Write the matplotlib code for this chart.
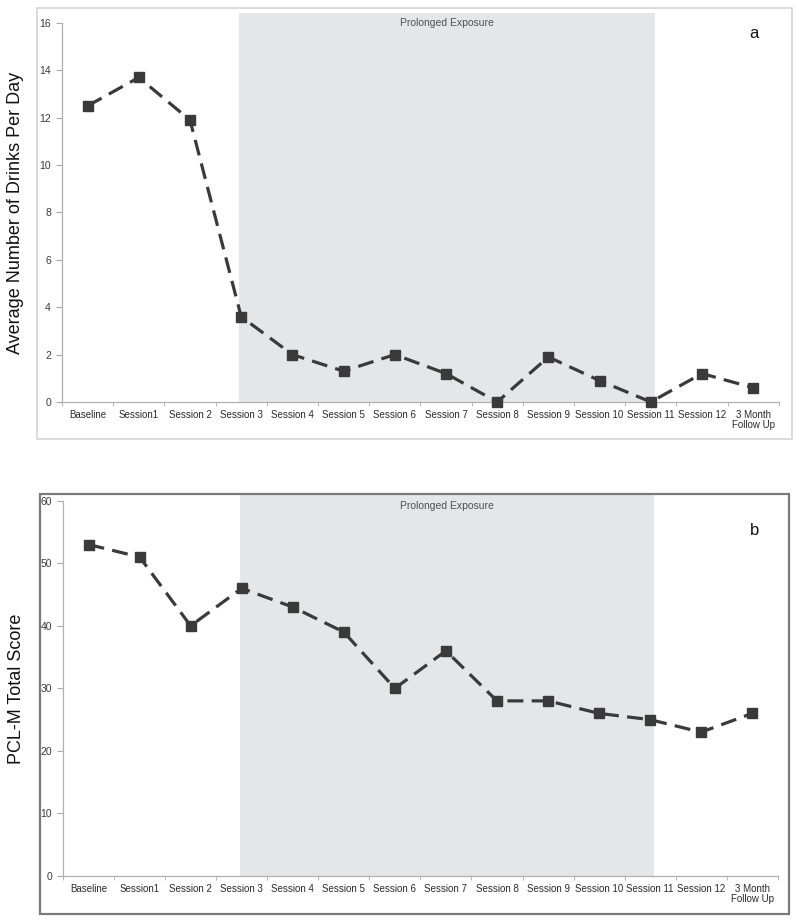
import matplotlib
matplotlib.use("Agg")
import matplotlib.pyplot as plt
from matplotlib.patches import Rectangle

plt.rcParams['font.family'] = ['Liberation Sans', 'DejaVu Sans']

categories = ["Baseline", "Session1", "Session 2", "Session 3", "Session 4", "Session 5",
              "Session 6", "Session 7", "Session 8", "Session 9", "Session 10",
              "Session 11", "Session 12", "3 Month\nFollow Up"]
drinks = [12.5, 13.7, 11.9, 3.6, 2.0, 1.3, 2.0, 1.2, 0.0, 1.9, 0.9, 0.0, 1.2, 0.6]
pclm = [53, 51, 40, 46, 43, 39, 30, 36, 28, 28, 26, 25, 23, 26]
shade_start, shade_end = 2.96, 11.08
shade_label = "Prolonged Exposure"

fig = plt.figure(figsize=(8, 9.23), dpi=100)

# outer frames
fig.patches.append(Rectangle((0.046, 0.5244), 0.944, 0.467, transform=fig.transFigure,
                             fill=False, edgecolor='#d4d4d4', linewidth=1.2))
fig.patches.append(Rectangle((0.050, 0.0098), 0.936, 0.455, transform=fig.transFigure,
                             fill=False, edgecolor='#7a7a7a', linewidth=1.6))

def panel(rect, values, ymax, ystep, shade_top, text_y, ylabel, letter, letter_y):
    ax = fig.add_axes(rect)
    x = list(range(len(categories)))
    ax.add_patch(Rectangle((shade_start, 0), shade_end - shade_start, shade_top,
                           facecolor='#e4e6e9', edgecolor='none', clip_on=False, zorder=0))
    ax.plot(x, values, color='#3a3a3a', linewidth=2.3, dashes=(5, 2.6),
            marker='s', markersize=7, markerfacecolor='#3a3a3a', markeredgecolor='#3a3a3a',
            zorder=3, clip_on=False)
    ax.set_xlim(-0.5, len(categories) - 0.5)
    ax.set_ylim(0, ymax)
    ax.set_yticks(range(0, ymax + 1, ystep))
    ax.set_xticks(x)
    ax.set_xticklabels(categories, fontsize=7, color='#2a2a2a', linespacing=1.0)
    ax.set_xticks([i + 0.5 for i in range(-1, len(categories))], minor=True)
    ax.tick_params(axis='x', which='major', length=0, pad=6)
    ax.tick_params(axis='x', which='minor', length=3, color='#aaaaaa', direction='out')
    ax.tick_params(axis='y', length=4, color='#aaaaaa', labelsize=7.5, labelcolor='#3a3a3a', pad=4)
    for s in ['top', 'right']:
        ax.spines[s].set_visible(False)
    for s in ['left', 'bottom']:
        ax.spines[s].set_color('#b0b0b0')
        ax.spines[s].set_linewidth(0.9)
    ax.set_facecolor('none')
    ax.text((shade_start + shade_end) / 2, text_y, shade_label, ha='center', va='center',
            fontsize=7.5, color='#505050', zorder=4)
    ax.set_ylabel(ylabel, fontsize=13, color='#111111')
    ax.yaxis.set_label_coords(-0.053, 0.5)
    fig.text(0.937, letter_y, letter, fontsize=12, color='#111111', ha='left', va='center')
    return ax

panel([0.0775, 0.5645, 0.896, 0.4106], drinks, 16, 2, 16.42, 16.0,
      "Average Number of Drinks Per Day", "a", 0.964)
panel([0.0788, 0.0509, 0.8934, 0.4066], pclm, 60, 10, 60.9, 59.15,
      "PCL-M Total Score", "b", 0.425)

fig.savefig("out.png", dpi=100)
